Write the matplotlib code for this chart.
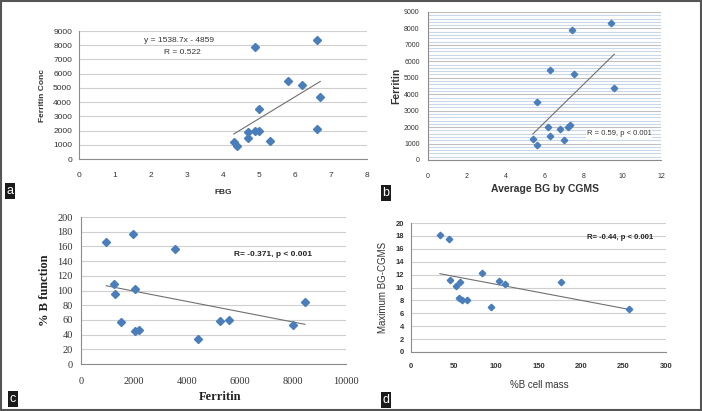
import numpy as np
import matplotlib
matplotlib.use("Agg")
import matplotlib.pyplot as plt
from matplotlib.patches import Rectangle
from matplotlib.ticker import MultipleLocator

# ---------------- data ----------------
# Panel a: FBG vs Ferritin Conc
a_fbg = [4.9, 6.6, 5.8, 6.2, 6.7, 5.0, 6.6, 4.7, 4.9, 5.0, 4.7, 5.3, 4.3, 4.4]
a_ferritin = [7900, 8350, 5500, 5200, 4350, 3500, 2100, 1900, 2000, 2000, 1450, 1250, 1200, 900]
a_slope, a_intercept = 1538.7, -4859
a_xticks = [0, 1, 2, 3, 4, 5, 6, 7, 8]
a_yticks = [0, 1000, 2000, 3000, 4000, 5000, 6000, 7000, 8000, 9000]

# Panel b: Average BG by CGMS vs Ferritin
b_bg = [9.4, 7.4, 6.3, 7.5, 9.6, 5.6, 6.2, 6.8, 7.2, 7.3, 6.3, 5.4, 7.0, 5.6]
b_ferritin = [8350, 7900, 5500, 5200, 4350, 3500, 2000, 1900, 2000, 2100, 1450, 1250, 1200, 900]
b_xticks = [0, 2, 4, 6, 8, 10, 12]
b_yticks = [0, 1000, 2000, 3000, 4000, 5000, 6000, 7000, 8000, 9000]

# Panel c: Ferritin vs % B function
c_ferritin = [950, 1950, 3550, 1230, 1300, 2030, 1510, 2040, 2170, 4400, 5250, 5590, 8000, 8450]
c_bfunc = [166, 177, 157, 109, 95, 102, 57.5, 45, 46.5, 34.5, 58.5, 60, 53, 84]
c_xticks = [0, 2000, 4000, 6000, 8000, 10000]
c_yticks = [0, 20, 40, 60, 80, 100, 120, 140, 160, 180, 200]

# Panel d: %B cell mass vs Maximum BG-CGMS
d_mass = [34, 45, 46, 53, 58, 83, 103, 110, 177, 57, 60, 66, 94, 256]
d_maxbg = [18.2, 17.5, 11.2, 10.3, 10.8, 12.3, 11.0, 10.55, 10.9, 8.3, 8.1, 8.1, 6.95, 6.7]
d_xticks = [0, 50, 100, 150, 200, 250, 300]
d_yticks = [0, 2, 4, 6, 8, 10, 12, 14, 16, 18, 20]

# ---------------- figure ----------------
W, H = 702, 411
fig = plt.figure(figsize=(W / 100, H / 100), dpi=100)
fig.patch.set_facecolor("white")

SANS = ["Liberation Sans", "DejaVu Sans"]
SERIF = ["Liberation Serif", "DejaVu Serif"]
MARK = "#4a7ebb"
GRID = "#cfcfcf"
AXL = "#8c8c8c"
TREND = "#707070"


def ax_px(x0, x1, y_top, y_bot):
    return fig.add_axes([x0 / W, 1 - y_bot / H, (x1 - x0) / W, (y_bot - y_top) / H])


def style(ax, xlim, ylim, xticks, yticks, font, fs, weight, padx, pady):
    ax.set_xlim(*xlim)
    ax.set_ylim(*ylim)
    ax.set_xticks(xticks)
    ax.set_yticks(yticks)
    for s in ["top", "right"]:
        ax.spines[s].set_visible(False)
    for s in ["left", "bottom"]:
        ax.spines[s].set_color(AXL)
        ax.spines[s].set_linewidth(0.8)
    ax.tick_params(length=0, colors="#333333")
    ax.tick_params(axis="x", pad=padx)
    ax.tick_params(axis="y", pad=pady)
    for lab in ax.get_xticklabels() + ax.get_yticklabels():
        lab.set_family(font)
        lab.set_fontsize(fs)
        lab.set_fontweight(weight)
    ax.yaxis.grid(True, color=GRID, linewidth=0.8)
    ax.set_axisbelow(True)
    ax.patch.set_alpha(0)


def ftext(xp, yp, s, **kw):
    fig.text(xp / W, 1 - yp / H, s, **kw)


def trend(ax, x, y):
    m, b = np.polyfit(x, y, 1)
    xs = np.array([min(x), max(x)])
    ax.plot(xs, m * xs + b, color=TREND, linewidth=0.8, zorder=2)


def letter(xp, yp, s):
    ftext(xp, yp, s, color="white", fontsize=9, family=SANS, ha="center", va="center",
          bbox=dict(boxstyle="square,pad=0.15", facecolor="#1a1a1a", edgecolor="none"))


# Panel a
axa = ax_px(79, 367, 31, 159)
style(axa, (0, 8), (0, 9000), a_xticks, a_yticks, SANS, 6, "normal", 9, 5)
axa.plot(a_fbg, a_ferritin, "D", color=MARK, markersize=3.6, zorder=3)
xs = np.array([min(a_fbg), max(a_fbg)])
axa.plot(xs, a_slope * xs + a_intercept, color=TREND, linewidth=0.8, zorder=2)
ftext(179, 40, "y = 1538.7x - 4859", fontsize=6, family=SANS, ha="center", va="center", color="#333333")
ftext(182, 52, "R = 0.522", fontsize=6, family=SANS, ha="center", va="center", color="#333333")
ftext(43, 96, "Ferritin Conc", fontsize=6, family=SANS, weight="bold", rotation=90,
      ha="center", va="center", color="#333333")
ftext(223, 192, "FBG", fontsize=6, family=SANS, weight="bold", ha="center", va="center", color="#333333")
letter(10, 191, "a")

# Panel b
axb = ax_px(428, 661, 12, 160)
style(axb, (0, 12), (0, 9000), b_xticks, b_yticks, SANS, 5, "normal", 9, 6)
axb.yaxis.set_minor_locator(MultipleLocator(200))
axb.yaxis.grid(True, which="minor", color="#c9d8e8", linewidth=0.8)
axb.yaxis.grid(True, which="major", color="#bfbfbf", linewidth=0.8)
axb.tick_params(which="minor", length=0)
axb.plot(b_bg, b_ferritin, "D", color=MARK, markersize=3.3, zorder=3)
trend(axb, b_bg, b_ferritin)
axb.text(8.18, 1620, "R = 0.59, p < 0.001", fontsize=5.5, family=SANS, ha="left", va="center",
         color="#333333", bbox=dict(facecolor="white", edgecolor="none", pad=0.5))
ftext(396, 86, "Ferritin", fontsize=7.5, family=SANS, weight="bold", rotation=90,
      ha="center", va="center", color="#333333")
ftext(545, 189, "Average BG by CGMS", fontsize=7.5, family=SANS, weight="bold",
      ha="center", va="center", color="#333333")
letter(386, 193, "b")

# Panel c
axc = ax_px(81, 346, 217, 364)
style(axc, (0, 10000), (0, 200), c_xticks, c_yticks, SERIF, 7.5, "normal", 9, 6)
axc.plot(c_ferritin, c_bfunc, "D", color=MARK, markersize=3.6, zorder=3)
trend(axc, c_ferritin, c_bfunc)
axc.text(5770, 149, "R= -0.371, p < 0.001", fontsize=6, family=SANS, weight="bold",
         ha="left", va="center", color="#222222")
ftext(45, 290, "% B function", fontsize=9, family=SERIF, weight="bold", rotation=90,
      ha="center", va="center", color="#222222")
ftext(220, 397, "Ferritin", fontsize=9, family=SERIF, weight="bold", ha="center", va="center", color="#222222")
letter(13, 399, "c")

# Panel d
axd = ax_px(411, 666, 223, 352)
style(axd, (0, 300), (0, 20), d_xticks, d_yticks, SANS, 5.5, "bold", 8, 5)
axd.plot(d_mass, d_maxbg, "D", color=MARK, markersize=3.3, zorder=3)
trend(axd, d_mass, d_maxbg)
axd.text(206.8, 17.7, "R= -0.44, p < 0.001", fontsize=5.5, family=SANS, weight="bold",
         ha="left", va="center", color="#222222")
ftext(383, 287, "Maximum BG-CGMS", fontsize=7, family=SANS, rotation=90,
      ha="center", va="center", color="#333333")
ftext(539, 385, "%B cell mass", fontsize=7, family=SANS, ha="center", va="center", color="#333333")
letter(386, 400, "d")

# outer border
fig.add_artist(Rectangle((0.001, 0.003), 0.997, 0.995, transform=fig.transFigure,
                         fill=False, edgecolor="#555555", linewidth=1.5))

fig.savefig("out.png", dpi=100)
